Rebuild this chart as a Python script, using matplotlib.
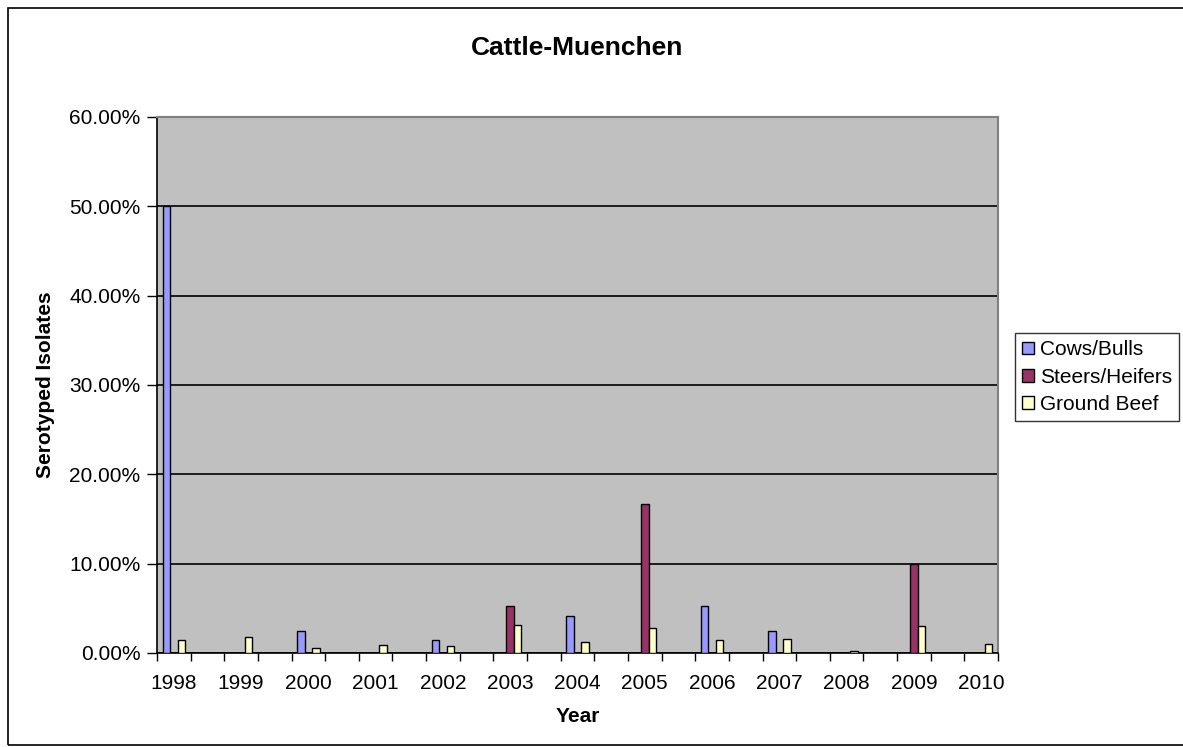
import matplotlib.pyplot as plt
import numpy as np
from matplotlib.patches import Rectangle
from matplotlib.ticker import PercentFormatter, FixedLocator

plt.rcParams['font.family'] = ['Liberation Sans', 'DejaVu Sans']

# data (percent of serotyped isolates)
years = ['1998', '1999', '2000', '2001', '2002', '2003', '2004',
         '2005', '2006', '2007', '2008', '2009', '2010']
cows = [50.0, 0, 2.5, 0, 1.45, 0, 4.17, 0, 5.26, 2.47, 0, 0, 0]
steers = [0, 0, 0, 0, 0, 5.26, 0, 16.67, 0, 0, 0, 10.0, 0]
ground = [1.45, 1.8, 0.56, 0.9, 0.75, 3.18, 1.27, 2.84, 1.42, 1.6, 0.2, 3.0, 1.05]

fig = plt.figure(figsize=(11.83, 7.47), dpi=100)
ax = fig.add_axes([157/1183, 94/747, 841/1183, 536/747])
ax.set_facecolor('#C0C0C0')

# each year sits on every other category slot (blank slot in between)
x = np.arange(len(years)) * 2
w = 1 / 4.5
ax.bar(x - w, cows, w, color='#9999FF', edgecolor='black', linewidth=1, label='Cows/Bulls', zorder=3)
ax.bar(x, steers, w, color='#993366', edgecolor='black', linewidth=1, label='Steers/Heifers', zorder=3)
ax.bar(x + w, ground, w, color='#FFFFCC', edgecolor='black', linewidth=1, label='Ground Beef', zorder=3)

ax.set_xlim(-0.5, 2 * len(years) - 1.5)
ax.set_ylim(0, 60)
ax.set_yticks(np.arange(0, 61, 10))
ax.yaxis.set_major_formatter(PercentFormatter(decimals=2))
ax.grid(axis='y', color='black', linewidth=1.2, zorder=1)
ax.set_axisbelow(True)

ax.set_xticks(x)
ax.set_xticklabels(years)
ax.xaxis.set_minor_locator(FixedLocator(np.arange(-0.5, 2 * len(years) - 1, 1)))
ax.tick_params(axis='x', which='major', length=0, pad=15, labelsize=15)
ax.tick_params(axis='x', which='minor', length=6, width=1, direction='out')
ax.tick_params(axis='y', length=7, width=1, direction='out', labelsize=15, pad=5)

for s in ['top', 'right']:
    ax.spines[s].set_color('#808080')
    ax.spines[s].set_linewidth(1.5)
for s in ['left', 'bottom']:
    ax.spines[s].set_linewidth(1.2)

ax.set_xlabel('Year', fontsize=15, fontweight='bold', labelpad=10)
ax.set_ylabel('Serotyped Isolates', fontsize=15, fontweight='bold', labelpad=10)
fig.text(577/1183, 1 - 48/747, 'Cattle-Muenchen', fontsize=19, fontweight='bold',
         ha='center', va='center')

leg = fig.legend(loc='upper left', bbox_to_anchor=(1015/1183, 1 - 333/747),
                 fontsize=15, frameon=True, fancybox=False, handlelength=0.55,
                 handleheight=0.55, handletextpad=0.3, borderpad=0.35, labelspacing=0.4,
                 borderaxespad=0)
leg.get_frame().set_edgecolor('black')
leg.get_frame().set_linewidth(1)

# chart border
fig.patches.append(Rectangle((8/1183, 2/747), 1.2, 1 - 10/747, transform=fig.transFigure,
                             fill=False, edgecolor='black', linewidth=1.2))

fig.savefig('out.png', dpi=100)
